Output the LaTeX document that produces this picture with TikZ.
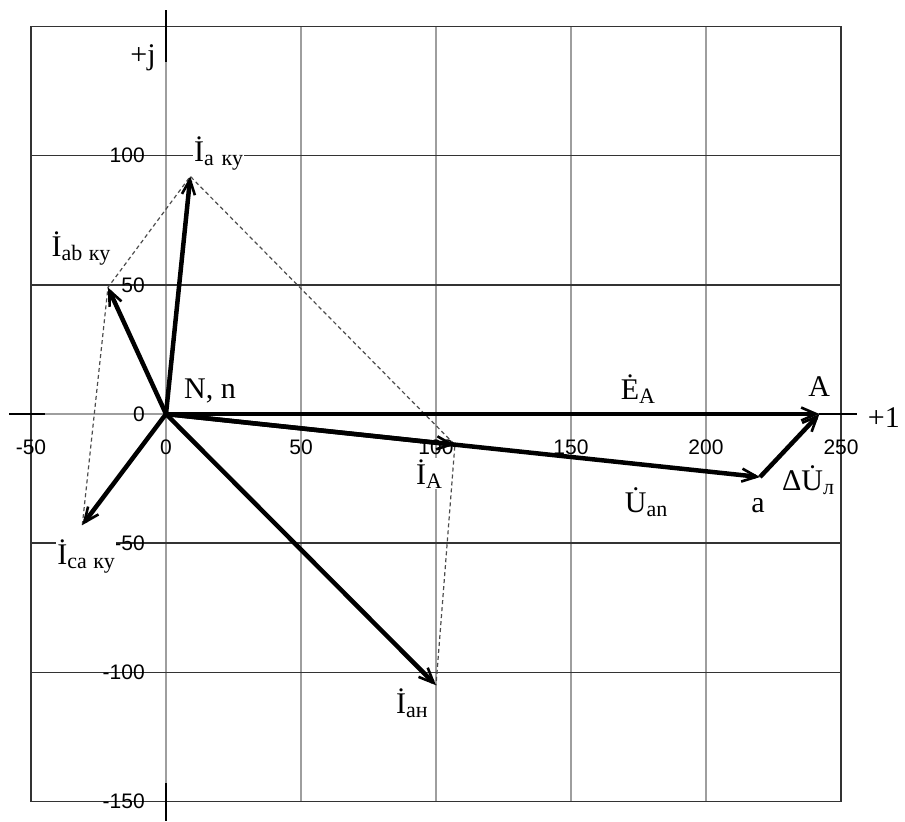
\documentclass[tikz,border=0pt]{standalone}
\usepackage{fontspec}
\setmainfont{Liberation Serif}
\newfontfamily\ticksans{Liberation Sans}
\usetikzlibrary{arrows.meta}

% phasor with a dot and a lowered subscript
\newcommand{\phs}[2]{\.{#1}\raisebox{-0.3ex}{\fontsize{22}{22}\selectfont #2}}

\begin{document}
\begin{tikzpicture}[x=2.7pt, y=2.583pt,
    hgrid/.style={draw=black!80, line width=1.4pt},
    vgrid/.style={draw=black!38, line width=1.6pt},
    axisline/.style={draw=black, line width=1.4pt},
    vec/.style={line width=4.5pt, -{Straight Barb[length=15pt,width=13pt,line width=2.6pt]}},
    helper/.style={draw=black!70, line width=1.2pt, dash pattern=on 4pt off 3pt},
    tick/.style={font=\ticksans\fontsize{21}{21}\selectfont, inner sep=0pt},
    lbl/.style={font=\fontsize{30}{30}\selectfont, fill=white, inner sep=1pt}]
    \useasboundingbox (-61.48,-157.57) rectangle (273.7,160.28);
    % grid
    \foreach \x in {0,50,...,200} {
        \draw[vgrid] (\x,-150) -- (\x,150);
    }
    \draw[vgrid] (-50,0) -- (250,0);
    \foreach \y in {-100,-50,50,100} {
        \draw[hgrid] (-50,\y) -- (250,\y);
    }
    \draw[hgrid] (-50,-150) rectangle (250,150);
    % axes
    \draw[axisline] (0,136.3) -- (0,156.4);
    \draw[axisline] (0,-142.9) -- (0,-157.6);
    \draw[axisline] (-58.1,0) -- (-44.8,0);
    \draw[axisline] (242,0) -- (256,0);
    % tick labels
    \foreach \v [count=\i] in {-50,0,50,100,150,200,250} {
        \node[tick] (xt\i) at (\v,-12.8) {\v};
    }
    \foreach \v [count=\i] in {100,50,0,-50,-100,-150} {
        \node[tick, anchor=east] (yt\i) at (-7.8,150-50*\i) {\v};
    }
    % phasor ends
    \coordinate (O) at (0,0);
    \coordinate (A) at (242,0);
    \coordinate (a) at (220,-24.4);
    \coordinate (IA) at (107,-11.9);
    \coordinate (Iaky) at (9,92);
    \coordinate (Iabky) at (-21.5,49);
    \coordinate (Icaky) at (-31,-43);
    \coordinate (Ian) at (100,-105);
    % construction lines
    \draw[helper] (Icaky) -- (Iabky) -- (Iaky) -- (IA) -- (Ian);
    % vectors
    \draw[vec] (O) -- (A);
    \draw[vec] (O) -- (a);
    \draw[vec] (a) -- (A);
    \draw[vec] (O) -- (IA);
    \draw[vec] (O) -- (Iaky);
    \draw[vec] (O) -- (Iabky);
    \draw[vec] (O) -- (Icaky);
    \draw[vec] (O) -- (Ian);
    % labels
    \node[lbl, fill=none] (pj) at (-8.5,137.8) {+j};
    \node[lbl, fill=none] (p1) at (265.9,-1.5) {+1};
    \node[lbl] (laky) at (19.5,100.8) {\phs{I}{a\hspace{0.35em}ку}};
    \node[lbl] (labky) at (-31.5,64) {\phs{I}{ab\hspace{0.3em}ку}};
    \node[lbl] (lcaky) at (-29.6,-55) {\phs{I}{ca\hspace{0.3em}ку}};
    \node[lbl] (lNn) at (16.3,8.9) {N, n};
    \node[lbl] (lEA) at (174.8,9.7) {\phs{E}{A}};
    \node[lbl] (lA) at (241.9,10.5) {A};
    \node[lbl] (lIA) at (97.4,-23.2) {\phs{I}{A}};
    \node[lbl] (lUan) at (177.8,-34.1) {\phs{U}{an}};
    \node[lbl] (la) at (219.3,-35.6) {a};
    \node[lbl] (ldU) at (237.8,-25.6) {Δ\phs{U}{л}};
    \node[lbl] (lIan) at (91.1,-111.9) {\phs{I}{ан}};
\end{tikzpicture}
\end{document}
